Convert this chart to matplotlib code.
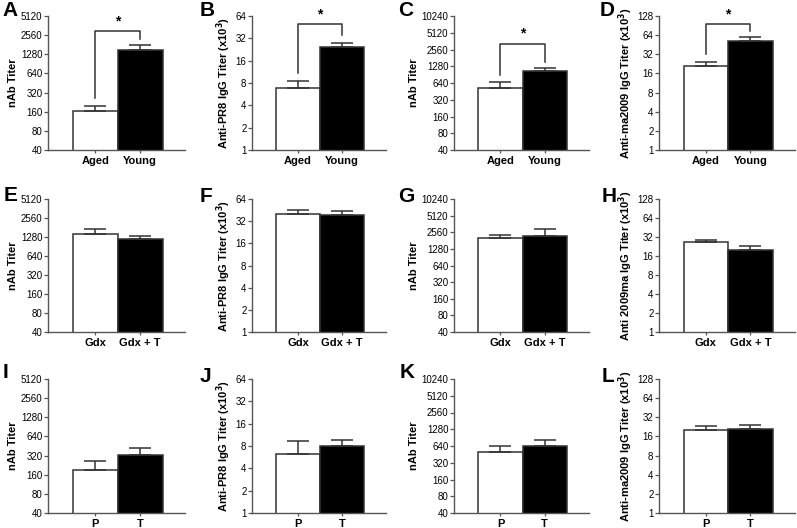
import matplotlib
matplotlib.use("Agg")
import matplotlib.pyplot as plt
import numpy as np

plt.rcParams['font.family'] = ['Liberation Sans', 'DejaVu Sans']

# ---- data ----
panels = ['A', 'B', 'C', 'D', 'E', 'F', 'G', 'H', 'I', 'J', 'K', 'L']
groups_row1 = ['Aged', 'Young']
groups_row2 = ['Gdx', 'Gdx + T']
groups_row3 = ['P', 'T']

ylabels = ['nAb Titer', r'Anti-PR8 IgG Titer (x10$^\mathbf{3}$)', 'nAb Titer',
           r'Anti-ma2009 IgG Titer (x10$^\mathbf{3}$)',
           'nAb Titer', r'Anti-PR8 IgG Titer (x10$^\mathbf{3}$)', 'nAb Titer',
           r'Anti 2009ma IgG Titer (x10$^\mathbf{3}$)',
           'nAb Titer', r'Anti-PR8 IgG Titer (x10$^\mathbf{3}$)', 'nAb Titer',
           r'Anti-ma2009 IgG Titer (x10$^\mathbf{3}$)']

yticks_nab5120 = [40, 80, 160, 320, 640, 1280, 2560, 5120]
yticks_nab10240 = [40, 80, 160, 320, 640, 1280, 2560, 5120, 10240]
yticks_64 = [1, 2, 4, 8, 16, 32, 64]
yticks_128 = [1, 2, 4, 8, 16, 32, 64, 128]
col_ticks = [yticks_nab5120, yticks_64, yticks_nab10240, yticks_128]

means = [
    [165, 1510], [6.9, 24.6], [516, 1047], [21.0, 51.7],
    [1445, 1178], [40.0, 39.0], [1996, 2229], [26.3, 19.9],
    [187, 331], [6.2, 7.9], [506, 640], [20.5, 21.0],
]
err_tops = [
    [200, 1770], [8.5, 27.5], [672, 1203], [24.6, 59.0],
    [1713, 1344], [45.0, 43.5], [2260, 2940], [28.7, 22.8],
    [260, 416], [9.4, 9.6], [649, 810], [23.6, 24.3],
]
# significance brackets (row 1 only): top level of bracket
bracket_tops = [3000, 50, 3265, 95]

W, H = 797, 528
fig = plt.figure(figsize=(W / 100, H / 100), dpi=100)

col_left = [48, 252, 454, 659]
col_right = [185, 386, 589, 795]
row_top = [16, 199, 379]
row_bot = [150, 332, 513]
letter_pos = [
    (2, 11), (200, 11), (398, 11), (600, 11),
    (4, 195), (200, 196), (398, 196), (602, 196),
    (3, 372), (200, 376), (400, 372), (602, 377),
]

edge = '#333333'
spine_c = '#555555'

for idx in range(12):
    r, c = divmod(idx, 4)
    left = col_left[c] / W
    width = (col_right[c] - col_left[c]) / W
    bottom = 1 - row_bot[r] / H
    height = (row_bot[r] - row_top[r]) / H
    ax = fig.add_axes([left, bottom, width, height])
    ticks = col_ticks[c]
    groups = [groups_row1, groups_row2, groups_row3][r]
    x = np.arange(2)
    m = means[idx]
    et = err_tops[idx]
    ax.set_yscale('log', base=2)
    ax.bar(x, m, width=1.0, color=['white', 'black'], edgecolor=edge,
           linewidth=1.1, zorder=2, bottom=0)
    yerr = [[0, 0], [et[0] - m[0], et[1] - m[1]]]
    ax.errorbar(x, m, yerr=yerr, fmt='none', ecolor=edge, elinewidth=1.1,
                capsize=8, capthick=1.1, zorder=3)
    ax.set_ylim(ticks[0], ticks[-1])
    ax.set_xlim(-1.05, 2.0)
    ax.set_yticks(ticks)
    ax.set_yticklabels([str(t) for t in ticks], fontsize=7)
    ax.yaxis.set_minor_locator(matplotlib.ticker.NullLocator())
    ax.set_xticks(x)
    ax.set_xticklabels(groups, fontsize=8, fontweight='bold')
    ax.tick_params(axis='y', length=3, width=0.9, color=spine_c, pad=1)
    ax.tick_params(axis='x', length=2.5, width=0.9, color=spine_c, pad=1.5)
    for s in ['top', 'right']:
        ax.spines[s].set_visible(False)
    for s in ['left', 'bottom']:
        ax.spines[s].set_color(spine_c)
        ax.spines[s].set_linewidth(1.0)
    ax.set_ylabel(ylabels[idx], fontsize=8, fontweight='bold', labelpad=2)
    if r == 0:
        bt = bracket_tops[c]
        y0 = et[0] * 1.3
        y1 = et[1] * 1.28
        ax.plot([0, 0, 1, 1], [y0, bt, bt, y1], color=edge, lw=1.1,
                zorder=3, clip_on=False)
        ax.annotate('*', (0.5, bt), xytext=(0, 2), textcoords='offset points',
                    ha='center', va='bottom', fontsize=10, fontweight='bold')
    lx, ly = letter_pos[idx]
    fig.text(lx / W, 1 - ly / H, panels[idx], fontsize=15, fontweight='bold',
             ha='left', va='center')

fig.savefig('out.png', dpi=100)
